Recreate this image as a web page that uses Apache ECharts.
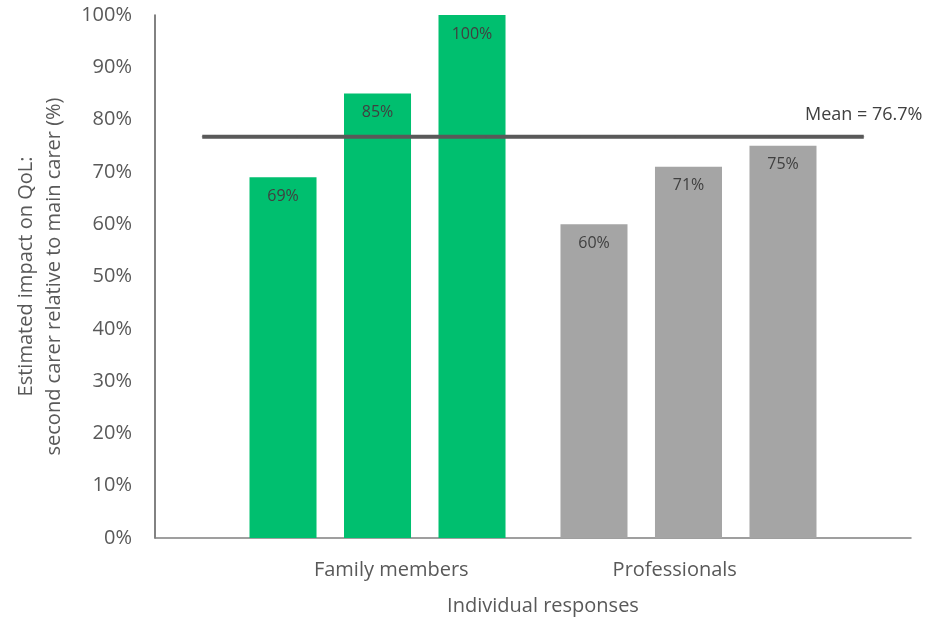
<!DOCTYPE html>
<html>
<head>
<meta charset="utf-8">
<script src="https://cdn.jsdelivr.net/npm/echarts@6/dist/echarts.min.js"></script>
<style>html,body{margin:0;padding:0;background:#fff;}#chart{width:948px;height:621px;}</style>
</head>
<body>
<div id="chart"></div>
<script>
// Category slots along the x axis (group labels shown at the middle slot of each group)
const categories = ['', 'Family 1', 'Family members', 'Family 3', 'Professional 1', 'Professionals', 'Professional 3', ' '];
const groupLabels = ['Family members', 'Professionals'];
// Series values (%)
const familyValues = [null, 69, 85, 100, null, null, null, null];
const professionalValues = [null, null, null, null, 60, 71, 75, null];
const meanValue = 76.7;
const yTicks = [0, 10, 20, 30, 40, 50, 60, 70, 80, 90, 100];

const FONT = '"Open Sans", sans-serif';
const chart = echarts.init(document.getElementById('chart'));

const meanData = categories.map((c, i) => i === categories.length - 1
  ? { value: meanValue, label: { show: true } }
  : meanValue);

chart.setOption({
  animation: false,
  textStyle: { fontFamily: FONT },
  grid: { left: 155, right: 37, top: 15, bottom: 83, containLabel: false },
  xAxis: {
    type: 'category',
    data: categories,
    name: 'Individual responses',
    nameLocation: 'middle',
    nameGap: 58,
    nameTextStyle: { fontFamily: FONT, fontSize: 20, color: '#595959', padding: [0, 0, 0, 20] },
    axisLine: { show: true, lineStyle: { color: '#808080', width: 1.5 } },
    axisTick: { show: false },
    axisLabel: {
      interval: 0,
      margin: 22,
      fontFamily: FONT, fontSize: 20, color: '#595959',
      formatter: v => groupLabels.includes(v) ? v : ''
    },
    splitLine: { show: false }
  },
  yAxis: {
    type: 'value',
    min: yTicks[0],
    max: yTicks[yTicks.length - 1],
    interval: 10,
    name: 'Estimated impact on QoL:\nsecond carer relative to main carer (%)',
    nameLocation: 'middle',
    nameGap: 87,
    nameTextStyle: { fontFamily: FONT, fontSize: 20, color: '#595959', lineHeight: 28 },
    axisLine: { show: true, lineStyle: { color: '#595959', width: 1.5 } },
    axisTick: { show: false },
    axisLabel: { margin: 23, fontFamily: FONT, fontSize: 20, color: '#595959', formatter: v => v + '%' },
    splitLine: { show: false }
  },
  series: [
    {
      name: 'Family members',
      type: 'bar',
      data: familyValues,
      barCategoryGap: '0%',
      barGap: '-59%',
      itemStyle: { color: '#00BF6F' },
      label: { show: true, position: 'insideTop', distance: 11, fontFamily: FONT, fontSize: 16, color: '#404040', formatter: p => p.value + '%' }
    },
    {
      name: 'Professionals',
      type: 'bar',
      data: professionalValues,
      barCategoryGap: '0%',
      barGap: '-59%',
      itemStyle: { color: '#A5A5A5' },
      label: { show: true, position: 'insideTop', distance: 11, fontFamily: FONT, fontSize: 16, color: '#404040', formatter: p => p.value + '%' }
    },
    {
      name: 'Mean',
      type: 'line',
      data: meanData,
      symbol: 'circle',
      symbolSize: 1,
      showSymbol: true,
      itemStyle: { color: '#595959' },
      lineStyle: { color: '#595959', width: 4 },
      label: { show: false, position: 'top', distance: 12, fontFamily: FONT, fontSize: 18, color: '#404040', formatter: 'Mean = ' + meanValue + '%' },
      z: 5
    }
  ]
});
</script>
</body>
</html>
